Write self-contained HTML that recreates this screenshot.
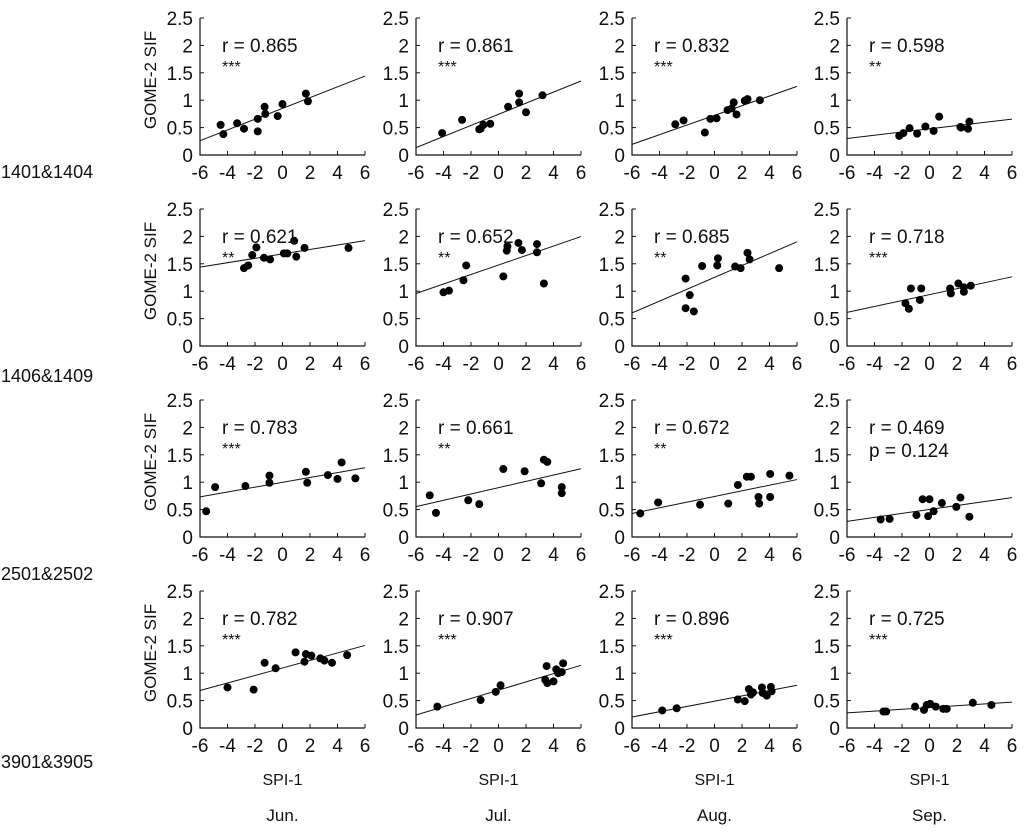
<!DOCTYPE html>
<html><head><meta charset="utf-8"><style>
body{margin:0;background:#fff;}
svg{display:block;font-family:"Liberation Sans",Arial,sans-serif;}
</style></head><body>
<svg id="chart" width="1024" height="837" viewBox="0 0 1024 837"></svg>
<script>
const rowLabels=["1401&1404","1406&1409","2501&2502","3901&3905"];
const monthLabels=["Jun.","Jul.","Aug.","Sep."];
const xTicks=[-6,-4,-2,0,2,4,6];
const yTicks=[0,0.5,1,1.5,2,2.5];
const rText=[["r = 0.865","r = 0.861","r = 0.832","r = 0.598"],["r = 0.621","r = 0.652","r = 0.685","r = 0.718"],["r = 0.783","r = 0.661","r = 0.672","r = 0.469"],["r = 0.782","r = 0.907","r = 0.896","r = 0.725"]];
const sigText=[["***","***","***","**"],["**","**","**","***"],["***","**","**","p = 0.124"],["***","***","***","***"]];
const xs=[
[[-4.5,-4.3,-3.3,-2.8,-1.8,-1.8,-1.3,-1.25,-0.35,0,1.7,1.85],
 [-4.1,-2.65,-1.4,-1.3,-1.1,-0.6,0.7,1.5,1.5,2.0,3.2],
 [-2.85,-2.25,-0.7,-0.3,0.15,0.95,1.4,1.25,1.6,2.2,2.4,3.3],
 [-2.2,-1.9,-1.45,-0.9,-0.3,0.3,0.7,2.25,2.8,2.9,2.3]],
[[-2.8,-2.5,-2.2,-1.9,-1.35,-0.9,0.1,0.35,0.85,1.0,1.6,4.8],
 [-4.0,-3.6,-2.55,-2.35,0.35,0.6,0.65,1.45,1.7,2.8,2.8,3.3],
 [-2.1,-2.1,-1.8,-1.5,-0.9,0.2,0.25,1.5,1.9,2.4,2.55,4.7],
 [-1.75,-1.5,-1.35,-0.7,-0.6,1.5,1.55,2.1,2.5,3.0,2.5]],
[[-5.55,-4.9,-2.7,-0.95,-0.95,1.7,1.8,3.3,4.0,4.3,5.3],
 [-5.0,-4.55,-2.2,-1.4,0.35,1.9,3.1,3.3,3.55,4.6,4.6],
 [-5.4,-4.1,-1.05,1.0,1.7,2.35,2.65,3.2,3.25,4.05,4.05,5.45],
 [-3.55,-2.9,-0.95,-0.5,0.0,-0.1,0.3,0.9,1.95,2.25,2.9]],
[[-4.0,-2.1,-1.3,-0.5,0.95,1.6,1.7,2.1,2.75,3.05,3.6,4.7],
 [-4.45,-1.3,-0.2,0.15,3.5,3.4,3.55,4.0,4.2,4.35,4.7,4.6],
 [-3.8,-2.75,1.7,2.2,2.5,2.65,2.8,3.45,3.5,3.8,4.1,4.15],
 [-3.35,-3.15,-1.05,-0.4,-0.2,0.05,0.45,1.0,1.25,3.15,4.5]]];
const ys=[
[[0.55,0.38,0.58,0.48,0.66,0.43,0.88,0.75,0.71,0.93,1.12,0.98],
 [0.4,0.64,0.47,0.48,0.55,0.57,0.88,1.12,0.96,0.78,1.09],
 [0.56,0.63,0.41,0.66,0.67,0.82,0.96,0.85,0.74,0.99,1.02,1.0],
 [0.35,0.4,0.49,0.39,0.52,0.44,0.7,0.51,0.48,0.61,0.5]],
[[1.42,1.47,1.66,1.8,1.61,1.58,1.69,1.69,1.92,1.63,1.79,1.79],
 [0.98,1.01,1.2,1.47,1.27,1.74,1.82,1.88,1.75,1.86,1.71,1.14],
 [1.23,0.69,0.93,0.63,1.46,1.47,1.6,1.45,1.42,1.7,1.58,1.42],
 [0.78,0.68,1.05,0.84,1.05,1.05,0.96,1.14,0.99,1.1,1.07]],
[[0.47,0.91,0.93,1.12,0.99,1.19,0.99,1.13,1.06,1.36,1.07],
 [0.76,0.44,0.67,0.6,1.24,1.2,0.98,1.41,1.37,0.91,0.8],
 [0.43,0.63,0.59,0.61,0.95,1.1,1.1,0.73,0.61,1.15,0.73,1.12],
 [0.32,0.33,0.4,0.69,0.69,0.38,0.47,0.62,0.55,0.72,0.37]],
[[0.74,0.7,1.19,1.09,1.38,1.21,1.35,1.32,1.27,1.23,1.19,1.33],
 [0.39,0.51,0.66,0.78,1.13,0.88,0.82,0.85,1.07,1.0,1.18,1.02],
 [0.32,0.36,0.52,0.49,0.71,0.61,0.65,0.74,0.64,0.59,0.75,0.67],
 [0.3,0.3,0.39,0.33,0.42,0.44,0.39,0.35,0.35,0.46,0.42]]];

const NS="http://www.w3.org/2000/svg";
const svg=document.getElementById('chart');
function mk(tag,attrs,parent,text){const e=document.createElementNS(NS,tag);for(const k in attrs)e.setAttribute(k,attrs[k]);if(text!==undefined)e.textContent=text;(parent||svg).appendChild(e);return e;}
const colLeft=[200,416,632,847], PW=165, rowTop=[18,209,400,591], PH=137;
const rowLabelY=[178,382,580,768];
for(let r=0;r<4;r++){
  const rl=mk('text',{x:1,y:rowLabelY[r],'font-size':18,fill:'#111'},svg,rowLabels[r]);
  
  
  for(let c=0;c<4;c++){
    const L=colLeft[c],T=rowTop[r];
    const sx=v=>L+(v+6)/12*PW, sy=v=>T+PH-(v/2.5)*PH;
    const g=mk('g',{});
    
    
    const ax=mk('path',{d:`M${L} ${T}V${T+PH}H${L+PW}`,stroke:'#111','stroke-width':1.2,fill:'none'},g);
    
    
    xTicks.forEach(t=>{
      mk('line',{x1:sx(t),x2:sx(t),y1:T+PH,y2:T+PH-4,stroke:'#111'},g);
      const tl=mk('text',{x:sx(t),y:T+PH+24,'font-size':19,'text-anchor':'middle',fill:'#111'},g,String(t));
      
      
    });
    yTicks.forEach(t=>{
      mk('line',{x1:L,x2:L+4,y1:sy(t),y2:sy(t),stroke:'#111'},g);
      const tl=mk('text',{x:L-7,y:sy(t)+7,'font-size':19,'text-anchor':'end',fill:'#111'},g,String(t));
      
      
    });
    if(c===0){
      const yt=mk('text',{transform:`translate(${L-44},${T+62}) rotate(-90)`,'font-size':17,'text-anchor':'middle',fill:'#111'},g,'GOME-2 SIF');
      
      
    }
    const X=xs[r][c],Y=ys[r][c],n=X.length;
    const mx=X.reduce((a,b)=>a+b,0)/n,my=Y.reduce((a,b)=>a+b,0)/n;
    let sxy=0,sxx=0;for(let i=0;i<n;i++){sxy+=(X[i]-mx)*(Y[i]-my);sxx+=(X[i]-mx)**2;}
    const b=sxy/sxx,a=my-b*mx;
    const fl=mk('line',{x1:sx(-6),y1:sy(a-6*b),x2:sx(6),y2:sy(a+6*b),stroke:'#111','stroke-width':1},g);
    
    
    for(let i=0;i<n;i++){
      const p=mk('circle',{cx:sx(X[i]),cy:sy(Y[i]),r:4,fill:'#000'},g);
      
      
    }
    const rt=mk('text',{x:L+22,y:T+34,'font-size':19,fill:'#111'},g,rText[r][c]);
    
    
    const isP=sigText[r][c].startsWith('p');
    const st=mk('text',{x:L+22,y:isP?T+57:T+54,'font-size':isP?19:16,fill:'#111'},g,sigText[r][c]);
    
    
    if(r===3){
      const sp=mk('text',{x:L+PW/2,y:785,'font-size':16,'text-anchor':'middle',fill:'#111'},svg,'SPI-1');
      
      
      const ml=mk('text',{x:L+PW/2,y:821,'font-size':17,'text-anchor':'middle',fill:'#111'},svg,monthLabels[c]);
      
      
    }
  }
}
</script>
</body></html>
